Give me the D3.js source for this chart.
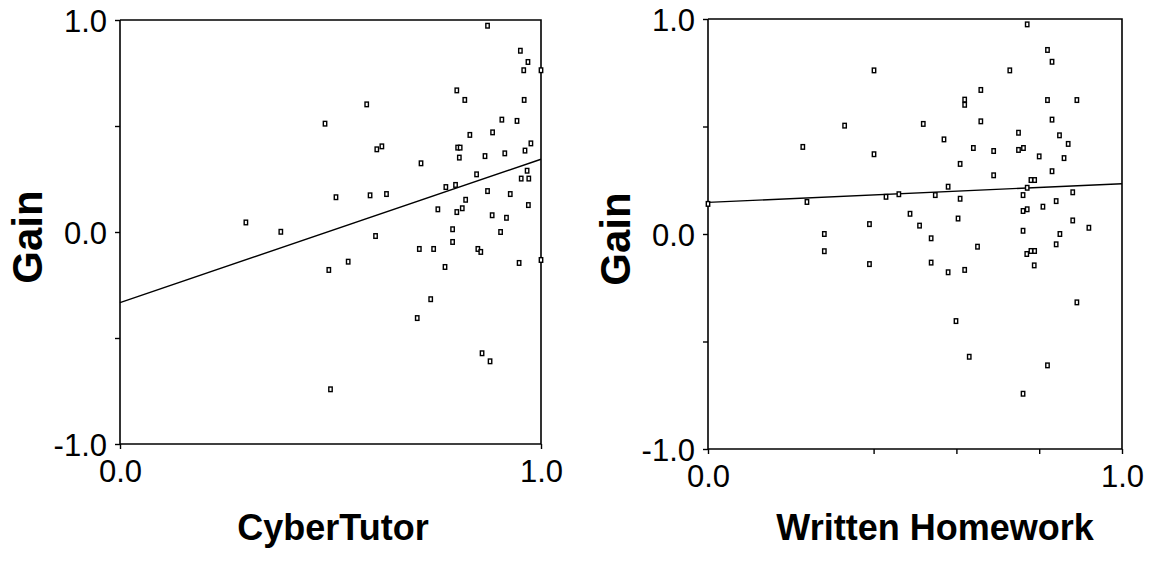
<!DOCTYPE html>
<html>
<head>
<meta charset="utf-8">
<script src="https://cdn.jsdelivr.net/npm/d3@7"></script>
<style>
  body { margin: 0; background: #fff; }
  svg { display: block; font-family: "Liberation Sans", Arial, sans-serif; }
</style>
</head>
<body>
<div id="chart"></div>
<script>

// CyberTutor panel: x = CyberTutor score, y = gain
var cyberX = [0.299, 0.382, 0.487, 0.513, 0.496, 0.542, 0.500, 0.873, 0.951, 0.969,
    0.959, 1.000, 0.800, 0.819, 0.960, 0.586, 0.907, 0.943, 0.831, 0.885,
    0.976, 0.962, 0.802, 0.808, 0.610, 0.622, 0.806, 0.867, 0.914, 0.715,
    0.967, 0.847, 0.953, 0.971, 0.774, 0.797, 0.594, 0.633, 0.873, 0.927,
    0.821, 0.755, 0.800, 0.813, 0.970, 0.884, 0.918, 0.790, 0.904, 0.607,
    0.790, 0.711, 0.745, 0.850, 0.857, 0.772, 0.948, 1.000, 0.738, 0.706,
    0.860, 0.879];
var cyberGain = [0.045, 0.001, 0.511, 0.164, -0.179, -0.140, -0.742, 0.973, 0.855, 0.802,
    0.763, 0.763, 0.668, 0.623, 0.623, 0.602, 0.530, 0.524, 0.458, 0.470,
    0.418, 0.384, 0.398, 0.398, 0.390, 0.404, 0.351, 0.358, 0.371, 0.324,
    0.289, 0.272, 0.252, 0.252, 0.212, 0.222, 0.173, 0.179, 0.193, 0.179,
    0.152, 0.107, 0.094, 0.112, 0.127, 0.079, 0.067, 0.013, 0.000, -0.019,
    -0.047, -0.080, -0.080, -0.080, -0.094, -0.165, -0.146, -0.132, -0.317, -0.406,
    -0.572, -0.610];
var cyberFit = [-0.333, 0.343];   // fitted gain at x = 0 and x = 1

// Written homework panel
var writtenX = [0.401, 0.330, 0.229, 0.401, 0.000, 0.239, 0.430, 0.461, 0.488, 0.390,
    0.771, 0.820, 0.831, 0.729, 0.659, 0.620, 0.620, 0.820, 0.891, 0.520,
    0.659, 0.831, 0.750, 0.849, 0.870, 0.570, 0.641, 0.690, 0.750, 0.762,
    0.800, 0.860, 0.609, 0.690, 0.831, 0.780, 0.789, 0.580, 0.771, 0.549,
    0.609, 0.761, 0.881, 0.841, 0.809, 0.761, 0.771, 0.604, 0.881, 0.511,
    0.920, 0.761, 0.281, 0.281, 0.390, 0.539, 0.651, 0.850, 0.841, 0.539,
    0.580, 0.620, 0.770, 0.780, 0.789, 0.788, 0.891, 0.599, 0.631, 0.820,
    0.761];
var writtenGain = [0.761, 0.504, 0.405, 0.371, 0.140, 0.149, 0.173, 0.185, 0.094, 0.046,
    0.975, 0.856, 0.801, 0.761, 0.670, 0.625, 0.601, 0.623, 0.623, 0.512,
    0.524, 0.532, 0.471, 0.459, 0.419, 0.440, 0.400, 0.386, 0.391, 0.400,
    0.361, 0.353, 0.326, 0.273, 0.292, 0.251, 0.251, 0.220, 0.215, 0.181,
    0.164, 0.181, 0.194, 0.153, 0.127, 0.107, 0.115, 0.072, 0.063, 0.039,
    0.029, 0.015, 0.000, -0.080, -0.140, -0.020, -0.059, 0.000, -0.048, -0.133,
    -0.178, -0.167, -0.093, -0.079, -0.079, -0.146, -0.318, -0.405, -0.571, -0.611,
    -0.743];
var writtenFit = [0.147, 0.234];

var yTicks = [-1, -0.5, 0, 0.5, 1];
var yTickLabels = {'-1': '-1.0', '0': '0.0', '1': '1.0'};
var xTickLabels = {'0': '0.0', '1': '1.0'};

var width = 1150, height = 561;

var svg = d3.select('#chart')
    .append('svg')
    .attr('width', width)
    .attr('height', height);

function drawPanel(opt) {
    var x = d3.scaleLinear().domain([0, 1]).range([opt.left, opt.right]);
    var y = d3.scaleLinear().domain([-1, 1]).range([opt.bottom, opt.top]);
    var g = svg.append('g');

    // frame: top and right edges
    g.append('path')
        .attr('d', 'M' + x(0) + ',' + y(1) + 'H' + x(1) + 'V' + y(-1))
        .attr('fill', 'none')
        .attr('stroke', '#000')
        .attr('stroke-width', 1.6);

    // y axis
    var yAxis = d3.axisLeft(y)
        .tickValues(yTicks)
        .tickSize(5)
        .tickPadding(8)
        .tickFormat(d => yTickLabels[String(d)] || '');
    var ya = g.append('g')
        .attr('transform', 'translate(' + x(0) + ',0)')
        .call(yAxis);

    // x axis
    var xAxis = d3.axisBottom(x)
        .tickValues(opt.xTicks)
        .tickSize(5)
        .tickPadding(11)
        .tickFormat(d => xTickLabels[String(d)] || '');
    var xa = g.append('g')
        .attr('transform', 'translate(0,' + y(-1) + ')')
        .call(xAxis);

    [ya, xa].forEach(function (a) {
        a.select('.domain').attr('stroke-width', 1.6);
        a.selectAll('.tick line').attr('stroke-width', 1.4);
        a.selectAll('text')
            .attr('fill', '#000')
            .style('font-size', '31px')
            .style('font-family', '"Liberation Sans", Arial, sans-serif');
    });
    ya.select('.domain').attr('d', 'M0,' + y(1) + 'V' + y(-1));
    xa.select('.domain').attr('d', 'M' + x(0) + ',0H' + x(1));
    ya.selectAll('text').attr('dy', '0.36em');
    xa.selectAll('text').attr('dy', '0.72em');

    // regression line
    g.append('line')
        .attr('x1', x(0)).attr('y1', y(opt.fit[0]))
        .attr('x2', x(1)).attr('y2', y(opt.fit[1]))
        .attr('stroke', '#000')
        .attr('stroke-width', 1.4);

    // points
    var pts = opt.xs.map((v, i) => ({x: v, y: opt.ys[i]}));
    g.selectAll('rect.pt')
        .data(pts)
        .enter()
        .append('rect')
        .attr('class', 'pt')
        .attr('x', d => x(d.x) - 1.7)
        .attr('y', d => y(d.y) - 2.3)
        .attr('width', 3.4)
        .attr('height', 4.6)
        .attr('fill', '#fff')
        .attr('stroke', '#000')
        .attr('stroke-width', 1.4);

    // y title
    g.append('text')
        .attr('transform', 'translate(' + (x(0) - 78) + ',' + (y(0) + 5) + ') rotate(-90)')
        .attr('text-anchor', 'middle')
        .style('font-size', '42px')
        .style('font-weight', 'bold')
        .text('Gain');

    // x title
    g.append('text')
        .attr('x', opt.titleX)
        .attr('y', 540)
        .attr('text-anchor', 'middle')
        .style('font-size', '36px')
        .style('font-weight', 'bold')
        .text(opt.title);
}

drawPanel({
    left: 120, right: 541, top: 20, bottom: 444,
    xTicks: [0, 1],
    xs: cyberX, ys: cyberGain, fit: cyberFit,
    title: 'CyberTutor', titleX: 333
});

drawPanel({
    left: 708, right: 1122, top: 19, bottom: 449,
    xTicks: [0, 0.4, 0.6, 0.8, 1],
    xs: writtenX, ys: writtenGain, fit: writtenFit,
    title: 'Written Homework', titleX: 935
});

</script>
</body>
</html>
